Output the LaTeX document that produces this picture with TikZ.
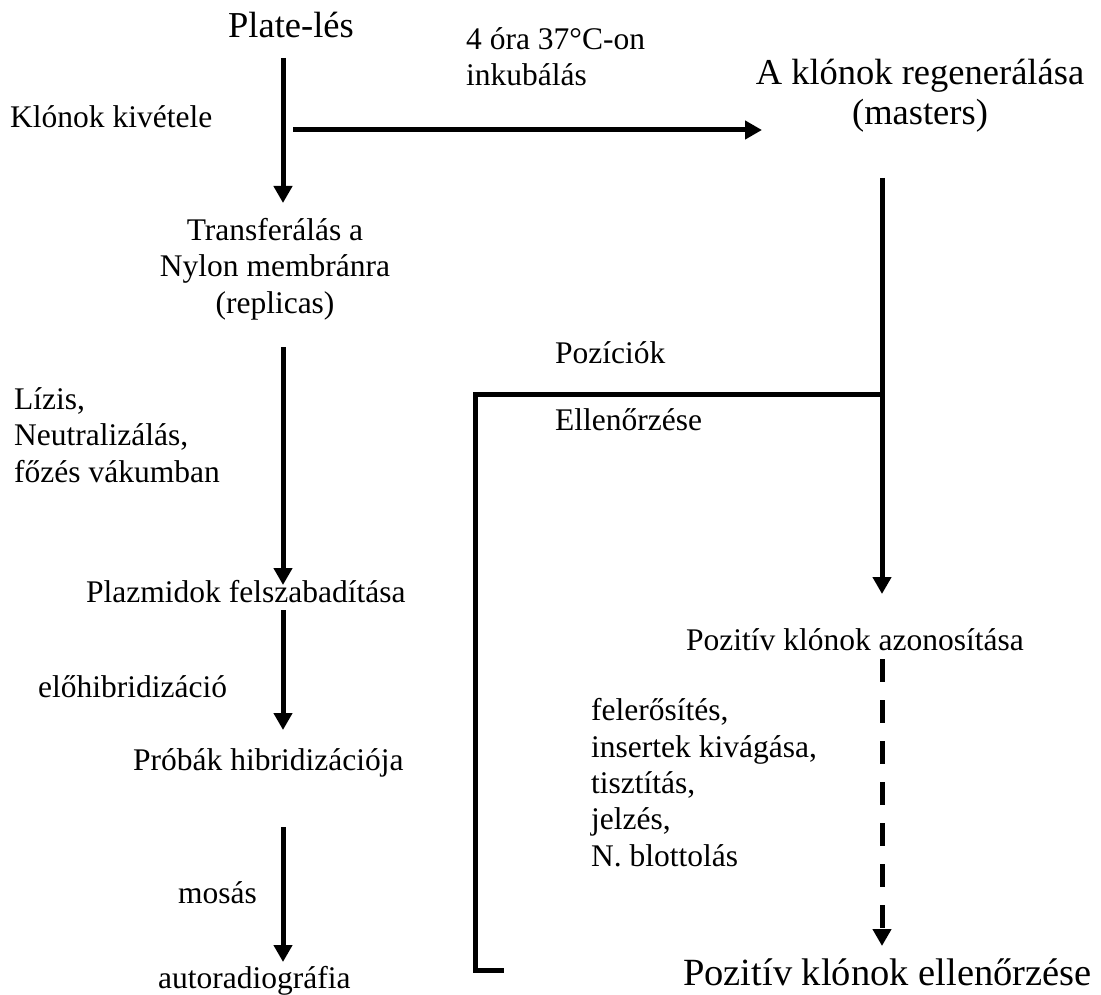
\documentclass[tikz,border=0pt]{standalone}
\usepackage{fontspec}
\setmainfont{Liberation Serif}
\usetikzlibrary{arrows.meta}
\tikzset{
  lab/.style={font=\fontsize{31.5}{36.3}\selectfont, inner sep=0pt, align=left},
  biglab/.style={font=\fontsize{36.5}{40}\selectfont, inner sep=0pt, align=center},
  hugelab/.style={font=\fontsize{38.5}{44}\selectfont, inner sep=0pt},
  flow/.style={-{Triangle[length=17pt,width=18pt]}, line width=5pt},
  dashflow/.style={flow, dash pattern=on 23pt off 18pt},
  frame/.style={line width=5pt},
}

\begin{document}
\begin{tikzpicture}[x=1pt,y=-1pt]
  \useasboundingbox (0,0) rectangle (1101,995);

  % left column: work on the replica membranes
  % (multi-line nodes sit on the baseline of their last line)
  \node[biglab, anchor=base] (plate) at (291,38) {Plate-lés};
  \node[lab, anchor=base west] (pick) at (10,128) {Klónok kivétele};
  \node[lab, align=center, anchor=base] (transfer) at (275,313)
    {Transferálás a\\Nylon membránra\\(replicas)};
  \node[lab, anchor=base west] (lysis) at (14,482)
    {Lízis,\\Neutralizálás,\\főzés vákumban};
  \node[lab, anchor=base west] (release) at (86,602) {Plazmidok felszabadítása};
  \node[lab, anchor=base west] (prehyb) at (38,697) {előhibridizáció};
  \node[lab, anchor=base west] (hyb) at (133,770) {Próbák hibridizációja};
  \node[lab, anchor=base west] (wash) at (178,903) {mosás};
  \node[lab, anchor=base west] (autorad) at (158,988) {autoradiográfia};

  \coordinate (a1s) at (283,58);   \coordinate (a1e) at (283,203);
  \coordinate (a2s) at (283,347);  \coordinate (a2e) at (283,585);
  \coordinate (a3s) at (283,610);  \coordinate (a3e) at (283,730);
  \coordinate (a4s) at (283,827);  \coordinate (a4e) at (283,962);
  \draw[flow] (a1s) -- (a1e);
  \draw[flow] (a2s) -- (a2e);
  \draw[flow] (a3s) -- (a3e);
  \draw[flow] (a4s) -- (a4e);

  % incubation towards the master plates
  \node[lab, anchor=base west] (incub) at (466,86) {4 óra 37°C-on\\inkubálás};
  \node[biglab, anchor=base] (regen) at (920,125)
    {A klónok regenerálása\\(masters)};
  \coordinate (hs) at (293,130);
  \coordinate (he) at (762,130);
  \draw[flow] (hs) -- (he);

  % right column and the position check frame
  \coordinate (rtop) at (882,178);
  \coordinate (rend) at (882,594);
  \coordinate (rjoin) at (882,394);
  \draw[flow] (rtop) -- (rend);
  \draw[frame] (rjoin) -- (475,394) -- (475,970) -- (504,970);
  \node[lab, anchor=base west] (pos) at (555,363) {Pozíciók};
  \node[lab, anchor=base west] (check) at (555,430) {Ellenőrzése};

  \node[lab, anchor=base west] (ident) at (686,650) {Pozitív klónok azonosítása};
  \node[lab, anchor=base west] (steps) at (591,866)
    {felerősítés,\\insertek kivágása,\\tisztítás,\\jelzés,\\N. blottolás};
  \coordinate (ds) at (882,659);
  \coordinate (de) at (882,946);
  \draw[dashflow] (ds) -- (de);
  \node[hugelab, anchor=base west] (final) at (683,985) {Pozitív klónok ellenőrzése};
\end{tikzpicture}
\end{document}
